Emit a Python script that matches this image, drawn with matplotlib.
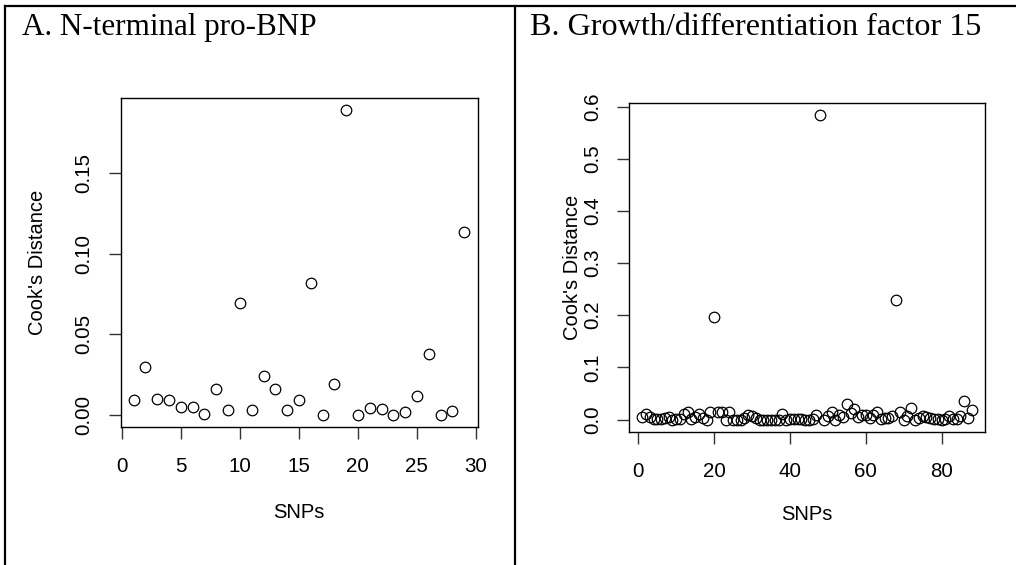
import matplotlib
matplotlib.use("Agg")
import matplotlib.pyplot as plt
from matplotlib.lines import Line2D

# ---------------- data ----------------
ntprobnp_cooks = [0.0091, 0.0300, 0.0101, 0.0091, 0.0048, 0.0048, 0.0004, 0.0159,
                  0.0033, 0.0692, 0.0031, 0.0244, 0.0161, 0.0029, 0.0091, 0.0818,
                  0.0000, 0.0192, 0.1893, 0.0000, 0.0046, 0.0035, 0.0002, 0.0019,
                  0.0116, 0.0376, 0.0002, 0.0025, 0.1137]
gdf15_cooks = [0.005, 0.010, 0.005, 0.001, 0.002, 0.002, 0.003, 0.004, 0.000, 0.001,
               0.002, 0.010, 0.014, 0.001, 0.004, 0.010, 0.003, 0.000, 0.015, 0.196,
               0.015, 0.014, 0.000, 0.015, 0.000, 0.000, 0.000, 0.003, 0.008, 0.007,
               0.003, 0.000, 0.000, 0.000, 0.000, 0.000, 0.000, 0.011, 0.000, 0.001,
               0.002, 0.002, 0.001, 0.000, 0.000, 0.002, 0.008, 0.583, 0.000, 0.006,
               0.015, 0.000, 0.008, 0.004, 0.030, 0.013, 0.020, 0.004, 0.008, 0.008,
               0.003, 0.008, 0.015, 0.001, 0.003, 0.003, 0.006, 0.230, 0.014, 0.000,
               0.006, 0.023, 0.000, 0.003, 0.007, 0.004, 0.003, 0.001, 0.001, 0.000,
               0.001, 0.006, 0.001, 0.001, 0.007, 0.036, 0.003, 0.019]

titles = ["A. N-terminal pro-BNP", "B. Growth/differentiation factor 15"]
xlabel = "SNPs"
ylabel = "Cook's Distance"
a_xticks = [0, 5, 10, 15, 20, 25, 30]
a_yticks = [0.00, 0.05, 0.10, 0.15]
a_yticklabels = ["0.00", "0.05", "0.10", "0.15"]
b_xticks = [0, 20, 40, 60, 80]
b_yticks = [0.0, 0.1, 0.2, 0.3, 0.4, 0.5, 0.6]
b_yticklabels = ["0.0", "0.1", "0.2", "0.3", "0.4", "0.5", "0.6"]

# ---------------- figure ----------------
W, H = 1016, 565
fig = plt.figure(figsize=(W / 100, H / 100), dpi=100)
fig.patch.set_facecolor("white")

SANS = ["Liberation Sans", "DejaVu Sans"]
SERIF = ["Liberation Serif", "DejaVu Serif"]


def px_axes(left, top, right, bottom):
    return fig.add_axes([left / W, 1 - bottom / H, (right - left) / W, (bottom - top) / H])


def r_style(ax, xticks, yticks, yticklabels, ylab_x_px, xlab_y_px, left_px, bottom_px, top_px, right_px):
    for s in ax.spines.values():
        s.set_linewidth(1.0)
        s.set_color("black")
    ax.set_xticks(xticks)
    ax.set_xticklabels([str(t) for t in xticks], family=SANS, fontsize=14.8)
    ax.set_yticks(yticks)
    ax.set_yticklabels(yticklabels, family=SANS, fontsize=14.8, rotation=90, va="center")
    ax.tick_params(axis="both", direction="out", length=8.5, width=1.0, color="#333333")
    ax.tick_params(axis="x", pad=13.5)
    ax.tick_params(axis="y", pad=11)
    h = bottom_px - top_px
    w = right_px - left_px
    ax.text(0.5, (bottom_px - xlab_y_px) / h, xlabel, transform=ax.transAxes,
            ha="center", va="center", family=SANS, fontsize=14.5)
    ax.text((ylab_x_px - left_px) / w, 0.5, ylabel, transform=ax.transAxes,
            ha="center", va="center", rotation=90, family=SANS, fontsize=14.5)


# Panel A
axA = px_axes(120.7, 97.7, 477.7, 426.7)
xa = list(range(1, len(ntprobnp_cooks) + 1))
axA.plot(xa, ntprobnp_cooks, linestyle="none", marker="o", markersize=7.6,
         markerfacecolor="none", markeredgecolor="black", markeredgewidth=0.9)
axA.set_xlim(-0.1, 30.15)
axA.set_ylim(-0.0073, 0.1967)
r_style(axA, a_xticks, a_yticks, a_yticklabels, 38, 512, 120.7, 426.7, 97.7, 477.7)

# Panel B
axB = px_axes(629, 103.3, 985, 431.7)
xb = list(range(1, len(gdf15_cooks) + 1))
axB.plot(xb, gdf15_cooks, linestyle="none", marker="o", markersize=7.6,
         markerfacecolor="none", markeredgecolor="black", markeredgewidth=0.9)
axB.set_xlim(-2.48, 91.48)
axB.set_ylim(-0.0233, 0.6063)
r_style(axB, b_xticks, b_yticks, b_yticklabels, 573, 514, 629, 431.7, 103.3, 985)

# Panel titles
fig.text(22 / W, 1 - 35 / H, titles[0], ha="left", va="baseline", family=SERIF, fontsize=22.4)
fig.text(530 / W, 1 - 35 / H, titles[1], ha="left", va="baseline", family=SERIF, fontsize=23.1)

# Table-like borders
fig.add_artist(Line2D([4.5 / W, 1.0], [1 - 5.5 / H, 1 - 5.5 / H], color="black", linewidth=1.6,
                      transform=fig.transFigure))
fig.add_artist(Line2D([4.5 / W, 4.5 / W], [0.0, 1 - 5.5 / H], color="black", linewidth=1.6,
                      transform=fig.transFigure))
fig.add_artist(Line2D([514.5 / W, 514.5 / W], [0.0, 1 - 5.5 / H], color="black", linewidth=1.6,
                      transform=fig.transFigure))

fig.savefig("out.png", dpi=100, facecolor="white")
